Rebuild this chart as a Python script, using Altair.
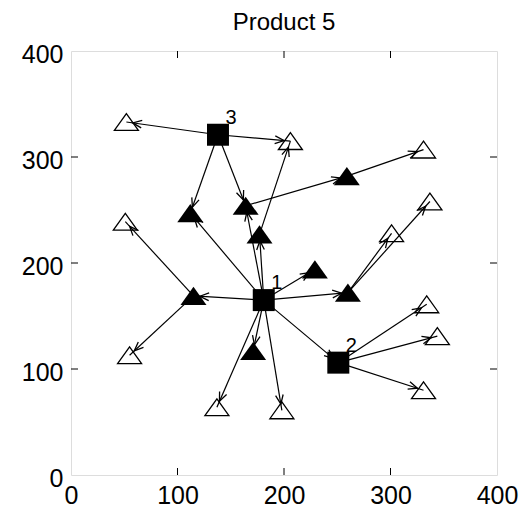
import math
import altair as alt
import pandas as pd

# Plants (filled squares), labelled 1-3
plant_names = ["1", "2", "3"]
plant_x = [181, 251, 138]
plant_y = [165, 106, 321]

# Distribution centres (filled triangles)
dc_x = [259, 164, 112, 177, 229, 115, 260, 171]
dc_y = [282, 254, 247, 227, 194, 169, 172, 117]

# Customers (open triangles)
cust_x = [52, 206, 331, 337, 51, 301, 334, 344, 55, 331, 137, 198]
cust_y = [333, 315, 307, 258, 239, 228, 161, 131, 113, 80, 64, 61]

# Shipments: origin -> destination
edge_from = ["P3", "P3", "P3", "P3", "D1", "D0", "D3",
             "P1", "P1", "P1", "P1", "P1", "P1", "P1", "P1", "P1", "P1",
             "D6", "D6", "D5", "D5", "P2", "P2", "P2"]
edge_to = ["C0", "C1", "D2", "D1", "D0", "C2", "C1",
           "D3", "D1", "D2", "D4", "D5", "D6", "D7", "C10", "C11", "P2",
           "C5", "C3", "C4", "C8", "C6", "C7", "C9"]

tick_vals = [100, 200, 300]
axis_vals = [0, 100, 200, 300, 400]

W, H = 426, 424
FONT = "Liberation Sans"
# a slightly flattened upward triangle
TRI = "M 0 -0.7 L 1 0.7 L -1 0.7 Z"

nodes = {}
for i, (x, y) in enumerate(zip(plant_x, plant_y)):
    nodes[f"P{i + 1}"] = (x, y)
for i, (x, y) in enumerate(zip(dc_x, dc_y)):
    nodes[f"D{i}"] = (x, y)
for i, (x, y) in enumerate(zip(cust_x, cust_y)):
    nodes[f"C{i}"] = (x, y)

edge_rows, arrow_rows = [], []
for a, b in zip(edge_from, edge_to):
    x1, y1 = nodes[a]
    x2, y2 = nodes[b]
    edge_rows.append({"x": x1, "y": y1, "x2": x2, "y2": y2})
    dx, dy = x2 - x1, y2 - y1
    L = math.hypot(dx, dy)
    back = 6.0
    arrow_rows.append({
        "x": x2 - dx / L * back,
        "y": y2 - dy / L * back,
        "angle": math.degrees(math.atan2(dx, dy)) % 360,
    })

edges = pd.DataFrame(edge_rows)
arrows = pd.DataFrame(arrow_rows)
plants = pd.DataFrame({"name": plant_names, "x": plant_x, "y": plant_y})
dcs = pd.DataFrame({"x": dc_x, "y": dc_y})
custs = pd.DataFrame({"x": cust_x, "y": cust_y})
ticks = pd.DataFrame({"v": tick_vals})

xs = alt.Scale(domain=[0, 400], nice=False)
ys = alt.Scale(domain=[0, 400], nice=False)

x_axis = alt.Axis(values=axis_vals, ticks=False, domain=False, grid=False,
                  labelFont=FONT, labelFontSize=25, labelColor="black",
                  labelPadding=8, labelFlush=False, labelOverlap=False, title=None)
y_axis = alt.Axis(values=axis_vals, ticks=False, domain=False, grid=False,
                  labelFont=FONT, labelFontSize=25, labelColor="black",
                  labelPadding=8, labelFlush=False, labelOverlap=False,
                  labelOffset=3, title=None)

lines = alt.Chart(edges).mark_rule(color="black", strokeWidth=1.2).encode(
    x=alt.X("x:Q", scale=xs, axis=x_axis),
    y=alt.Y("y:Q", scale=ys, axis=y_axis),
    x2="x2:Q", y2="y2:Q",
)

heads = alt.Chart(arrows).mark_point(
    shape="M -0.42 1 L 0 0 L 0.42 1", size=330, filled=False,
    color="black", strokeWidth=1.3, opacity=1,
).encode(x=alt.X("x:Q", scale=xs), y=alt.Y("y:Q", scale=ys),
         angle=alt.Angle("angle:Q", scale=None))

plant_marks = alt.Chart(plants).mark_point(
    shape="square", size=484, filled=True, color="black", opacity=1,
).encode(x=alt.X("x:Q", scale=xs), y=alt.Y("y:Q", scale=ys))

plant_labels = alt.Chart(plants).mark_text(
    font=FONT, fontSize=20, color="black", dx=13, dy=-17, align="center",
    baseline="middle",
).encode(x=alt.X("x:Q", scale=xs), y=alt.Y("y:Q", scale=ys), text="name:N")

dc_marks = alt.Chart(dcs).mark_point(
    shape=TRI, size=676, filled=True, color="black", opacity=1,
).encode(x=alt.X("x:Q", scale=xs), y=alt.Y("y:Q", scale=ys))

cust_marks = alt.Chart(custs).mark_point(
    shape=TRI, size=576, filled=False, color="black",
    strokeWidth=1.3, opacity=1,
).encode(x=alt.X("x:Q", scale=xs), y=alt.Y("y:Q", scale=ys))

tick_bottom = alt.Chart(ticks).mark_rule(color="black", strokeWidth=1).encode(
    x=alt.X("v:Q", scale=xs), y=alt.value(H), y2=alt.value(H - 7))
tick_top = alt.Chart(ticks).mark_rule(color="black", strokeWidth=1).encode(
    x=alt.X("v:Q", scale=xs), y=alt.value(0), y2=alt.value(7))
tick_left = alt.Chart(ticks).mark_rule(color="black", strokeWidth=1).encode(
    y=alt.Y("v:Q", scale=ys), x=alt.value(0), x2=alt.value(7))
tick_right = alt.Chart(ticks).mark_rule(color="black", strokeWidth=1).encode(
    y=alt.Y("v:Q", scale=ys), x=alt.value(W), x2=alt.value(W - 7))

chart = alt.layer(
    lines, heads, plant_marks, dc_marks, cust_marks, plant_labels,
    tick_bottom, tick_top, tick_left, tick_right,
).properties(
    width=W, height=H,
    title=alt.TitleParams("Product 5", font=FONT, fontSize=24,
                          fontWeight="normal", color="black", offset=7),
    autosize=alt.AutoSizeParams(type="none"),
    padding={"left": 71, "top": 51, "right": 27, "bottom": 39},
).configure_view(stroke="black", strokeWidth=1.5).configure(background="white")

chart.save("out.html", embed_options={"renderer": "svg", "actions": False})
